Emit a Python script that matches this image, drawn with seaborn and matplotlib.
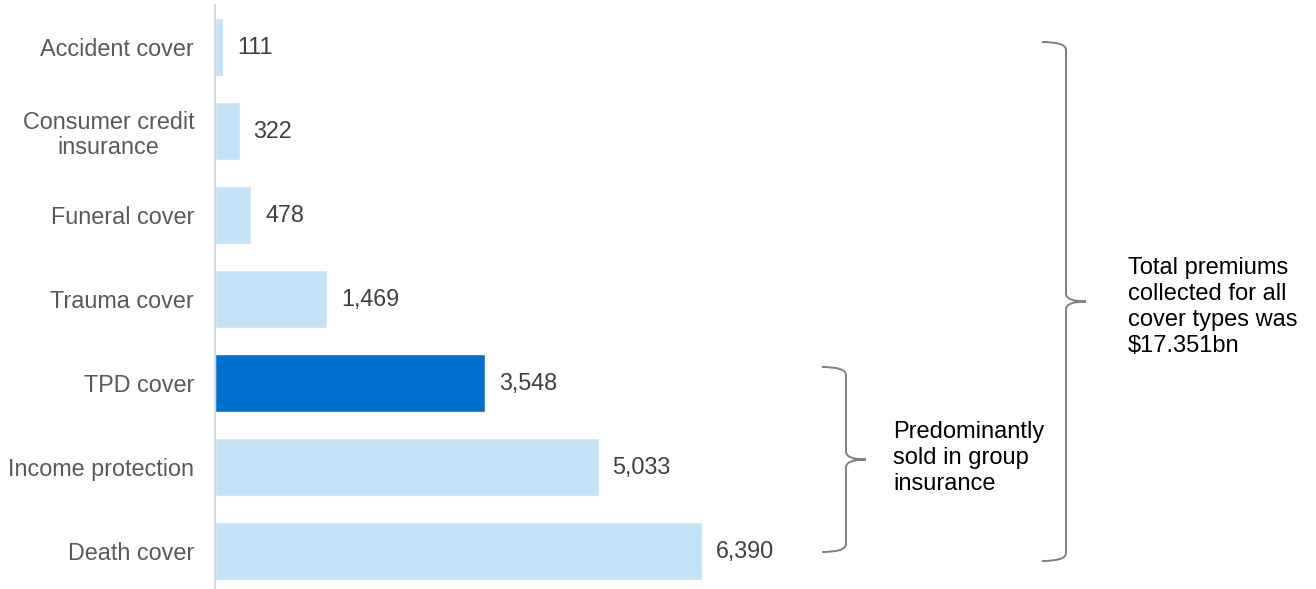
import matplotlib
matplotlib.use("Agg")
import matplotlib.pyplot as plt
from matplotlib.path import Path
from matplotlib.patches import PathPatch
import seaborn as sns

categories = ["Accident cover", "Consumer credit\ninsurance", "Funeral cover",
              "Trauma cover", "TPD cover", "Income protection", "Death cover"]
premiums = [111, 322, 478, 1469, 3548, 5033, 6390]
value_labels = ["111", "322", "478", "1,469", "3,548", "5,033", "6,390"]
highlight = "TPD cover"

LIGHT = "#C5E3F7"
DARK = "#0070CC"
colors = [DARK if c == highlight else LIGHT for c in categories]

sns.set_theme(style="white")
plt.rcParams["font.family"] = ["Liberation Sans", "DejaVu Sans"]

fig = plt.figure(figsize=(13.16, 5.89), dpi=100)
ax = fig.add_axes([215 / 1316, 1 - 588 / 589, 1085 / 1316, 583 / 589])

sns.barplot(x=premiums, y=categories, hue=categories, palette=colors,
            legend=False, orient="h", width=0.68, ax=ax, saturation=1)

ax.set_xlim(0, 1085 / 0.0762)
ax.set_ylim(6.44, -0.5)
for s in ["top", "right", "bottom"]:
    ax.spines[s].set_visible(False)
ax.spines["left"].set_color("#D9D9D9")
ax.spines["left"].set_linewidth(1.5)
ax.set_xticks([])
ax.set_xlabel("")
ax.set_ylabel("")
ax.tick_params(axis="y", length=0, pad=15, labelsize=16.8, labelcolor="#595959")
for lbl in ax.get_yticklabels():
    lbl.set_horizontalalignment("right")
    lbl.set_multialignment("center")
    lbl.set_linespacing(1.15)

for i, (v, t) in enumerate(zip(premiums, value_labels)):
    ax.annotate(t, xy=(v, i), xytext=(10, 0), textcoords="offset points",
                va="center", ha="left", fontsize=16.8, color="#404040")

# overlay in pixel coordinates for the braces and notes
ov = fig.add_axes([0, 0, 1, 1])
ov.set_xlim(0, 1316)
ov.set_ylim(589, 0)
ov.axis("off")
ov.patch.set_alpha(0)


def brace(axis, x0, x1, xt, y0, y1, r=8):
    ym = (y0 + y1) / 2
    verts = [(x0, y0), (x1, y0), (x1, y0 + r),
             (x1, ym - r),
             (x1, ym), (xt, ym),
             (x1, ym), (x1, ym + r),
             (x1, y1 - r),
             (x1, y1), (x0, y1)]
    codes = [Path.MOVETO, Path.CURVE3, Path.CURVE3,
             Path.LINETO,
             Path.CURVE3, Path.CURVE3,
             Path.CURVE3, Path.CURVE3,
             Path.LINETO,
             Path.CURVE3, Path.CURVE3]
    axis.add_patch(PathPatch(Path(verts, codes), fill=False,
                             edgecolor="#808080", linewidth=1.4))


brace(ov, 822, 846, 866, 367, 552)
brace(ov, 1042, 1066, 1086, 42, 561)

ov.text(893, 458, "Predominantly\nsold in group\ninsurance", ha="left",
        va="center", fontsize=17, color="#000000", linespacing=1.25)
ov.text(1128, 307, "Total premiums\ncollected for all\ncover types was\n$17.351bn",
        ha="left", va="center", fontsize=17, color="#000000", linespacing=1.25)

fig.savefig("out.png", dpi=100)
